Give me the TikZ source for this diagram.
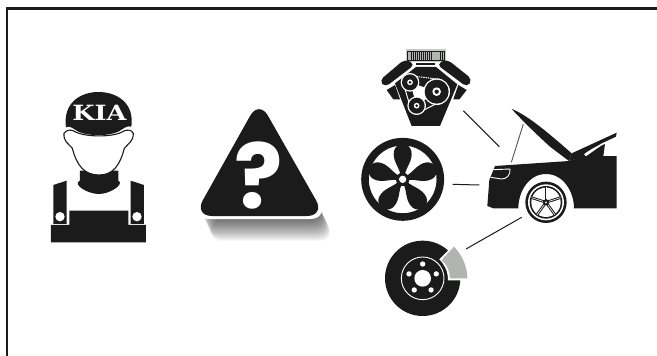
\documentclass[tikz,border=0pt]{standalone}
\usepackage{fontspec}
\newfontfamily\capfont{DejaVu Serif}
\newfontfamily\markfont{Poppins}
\usetikzlibrary{positioning, calc}
\definecolor{icon}{HTML}{1A1B1A}
\definecolor{caliper}{HTML}{B2B4B2}
\begin{document}
\begin{tikzpicture}[
        x=1pt, y=-1pt,
        solid/.style={fill=icon, draw=none},
        cut/.style={fill=white, draw=none},
        ringline/.style={draw=white, line width=0.9pt},
        link/.style={draw=icon, line width=1pt},
        icontext/.style={text=white, inner sep=0pt}
    ]
        \useasboundingbox (0,0) rectangle (657,356);
        \fill[white] (0,0) rectangle (657,356);

        % Frame
        \draw[icon, line width=2.8pt] (7,356) -- (7,8.8) -- (657,8.8);

        % Mechanic
        \begin{scope}[shift={(30,80)}, scale=1/3]
            \fill[solid] (63,435) -- (118,435) -- (118,392) -- (295,392) -- (295,435) -- (348,435) -- (348,487) -- (63,487) -- cycle;
            \fill[solid] (70,315) -- (110,302) -- (110,432) -- (70,432) -- cycle;
            \fill[solid] (302,302) -- (342,315) -- (342,432) -- (302,432) -- cycle;
            \fill[cut] (90,410) circle[radius=14];
            \fill[cut] (321,410) circle[radius=14];
            \fill[solid] (150,272) -- (265,272) -- (265,302) .. controls (285,312) and (240,342) .. (207,342) .. controls (172,342) and (125,312) .. (150,302) -- cycle;
            \draw[fill=white, draw=icon, line width=1.1pt] (102,160) .. controls (110,148) and (125,148) .. (135,155) .. controls (165,172) and (250,172) .. (278,155) .. controls (288,148) and (305,148) .. (310,160) .. controls (310,185) and (295,190) .. (283,205) .. controls (270,255) and (250,285) .. (207,285) .. controls (162,285) and (140,255) .. (127,205) .. controls (115,190) and (100,185) .. (102,160) -- cycle;
            \fill[solid] (108,142) .. controls (98,70) and (150,36) .. (205,36) .. controls (262,36) and (314,70) .. (304,140) .. controls (290,135) and (280,147) .. (265,155) .. controls (235,169) and (175,169) .. (145,155) .. controls (130,147) and (120,135) .. (108,142) -- cycle;
            \coordinate (capmid) at (208,99);
        \end{scope}
        \node[icontext, font=\capfont\bfseries\fontsize{21}{21}\selectfont, xscale=1.22] (kia) at (capmid) {KIA};

        % Warning triangle
        \foreach \s in {1,...,24} {
            \fill[black, opacity=0.03, rounded corners=18pt, shift={(\s*0.45,\s)}] (259,99) -- (194,217) -- (326,217) -- cycle;
        }
        \fill[white, rounded corners=19pt] (259,96) -- (190,219) -- (329,219) -- cycle;
        \fill[solid, rounded corners=18pt] (259,100) -- (194,216) -- (325,216) -- cycle;
        \node[icontext, font=\markfont\bfseries\fontsize{90}{90}\selectfont] (mark) at (258.5,176) {?};

        % Engine
        \begin{scope}[shift={(350,40)}, scale=1/3]
            \fill[caliper!70!white] (168,28) rectangle (289,67);
            \fill[solid] (172,32) rectangle (285,62);
            \foreach \k in {0,...,18} {
                \fill[caliper] (175+\k*5.8,35) rectangle (178.5+\k*5.8,60);
            }
            \fill[solid, rounded corners=5pt] (165,57) -- (195,73) -- (105,142) -- (88,122) -- cycle;
            \fill[solid, rounded corners=5pt] (290,57) -- (367,118) -- (352,142) -- (260,73) -- cycle;
            \fill[solid] (198,69) rectangle (256,76);
            \fill[solid] (135,135) -- (110,150) -- (130,178) -- (150,178) -- cycle;
            \fill[solid] (325,135) -- (350,150) -- (328,178) -- (310,178) -- cycle;
            \fill[solid] (198,81) -- (258,81) -- (322,133) -- (270,258) -- (185,258) -- (135,130) -- cycle;
            \fill[cut] (180,127) -- (260,155) -- (200,197) -- cycle;
            \draw[white, line width=1pt, dash pattern=on 1.5pt off 0.8pt] (165,105) -- (268,118);
            \draw[white, line width=1pt] (163,140) -- (185,215) (290,175) -- (218,212);
            \foreach \cx/\cy/\cr in {180/127/24, 260/155/36, 200/197/24} {
                \fill[cut] (\cx,\cy) circle[radius=\cr+4];
                \fill[solid] (\cx,\cy) circle[radius=\cr];
                \fill[cut] (\cx,\cy) circle[radius=\cr*0.36];
                \fill[solid] (\cx,\cy) circle[radius=\cr*0.18];
            }
            \coordinate (engineend) at (340,212);
        \end{scope}

        % Alloy wheel
        \begin{scope}[shift={(350,130)}, scale=1/3]
            \draw[icon, line width=7.6pt] (158,148) circle[radius=113];
            \foreach \a in {0,72,144,216,288} {
                \fill[solid, shift={(158,148)}, rotate=\a] (-6,-10) .. controls (-8,-35) and (-32,-55) .. (-26,-85) .. controls (-20,-112) and (20,-112) .. (26,-85) .. controls (32,-55) and (8,-35) .. (6,-10) -- cycle;
            }
            \fill[solid] (158,148) circle[radius=20];
            \fill[cut] (158,148) circle[radius=11];
            \coordinate (wheelend) at (308,163);
        \end{scope}

        % Brake disc
        \begin{scope}[shift={(350,130)}, scale=1/3]
            \fill[solid] (218,445) circle[radius=113];
            \draw[ringline] (218,445) circle[radius=64];
            \fill[cut] (218,445) circle[radius=25];
            \foreach \a in {-90,-18,54,126,198} {
                \fill[cut] ($(218,445)+(\a:43)$) circle[radius=8];
            }
            \fill[white] (268,388) -- (313,343) .. controls (340,370) and (358,410) .. (358,451) -- (294,451) .. controls (294,425) and (285,405) .. (268,388) -- cycle;
            \fill[caliper] (275,390) -- (312,350) .. controls (337,376) and (352,410) .. (352,445) -- (300,445) .. controls (300,423) and (291,405) .. (275,390) -- cycle;
            \coordinate (discend) at (348,357);
        \end{scope}

        % Car with open bonnet
        \begin{scope}[shift={(470,100)}, scale=1/3]
            \fill[solid] (75,198) -- (297,183) -- (345,168) -- (440,168) -- (440,325) -- (312,325) .. controls (312,275) and (280,222) .. (228,222) .. controls (176,222) and (145,275) .. (145,325) -- (70,325) -- (52,318) -- (58,240) -- cycle;
            \fill[solid] (125,27) .. controls (165,42) and (220,85) .. (305,160) -- (297,183) -- (240,140) .. controls (205,108) and (165,70) .. (125,27) -- cycle;
            \fill[solid] (305,160) -- (440,98) -- (438,110) -- (395,130) -- (345,160) -- (345,170) -- (297,183) -- cycle;
            \fill[solid] (350,168) .. controls (375,150) and (395,135) .. (405,132) -- (400,168) -- cycle;
            \draw[white, line width=0.6pt] (342,164) .. controls (360,150) and (380,140) .. (392,136);
            \draw[white, line width=0.9pt] (70,209) -- (120,207) .. controls (122,225) and (110,237) .. (95,237) -- (62,232);
            \fill[cut] (228,307) circle[radius=70];
            \fill[solid] (228,307) circle[radius=62];
            \fill[cut] (228,307) circle[radius=54];
            \fill[solid] (228,307) circle[radius=49];
            \fill[cut] (228,307) circle[radius=44];
            \foreach \a in {-90,-18,54,126,198} {
                \draw[icon, line width=2.6pt] (228,307) -- ++(\a:46);
                \draw[white, line width=0.6pt] ($(228,307)+(\a:10)$) -- ++(\a:36);
            }
            \fill[solid] (228,307) circle[radius=9];
            \fill[cut] (228,307) circle[radius=3];
            \coordinate (carengine) at (88,140);
            \coordinate (bonnetstart) at (160,72);
            \coordinate (bonnetend) at (124,187);
            \coordinate (carwheel) at (28,255);
            \coordinate (cardisc) at (155,352);
        \end{scope}

        % Connections to car
        \draw[link] (engineend) -- (carengine);
        \draw[icon!75!white, line width=0.9pt] (bonnetstart) -- (bonnetend);
        \draw[link] (wheelend) -- (carwheel);
        \draw[link] (discend) -- (cardisc);

    \end{tikzpicture}
\end{document}
